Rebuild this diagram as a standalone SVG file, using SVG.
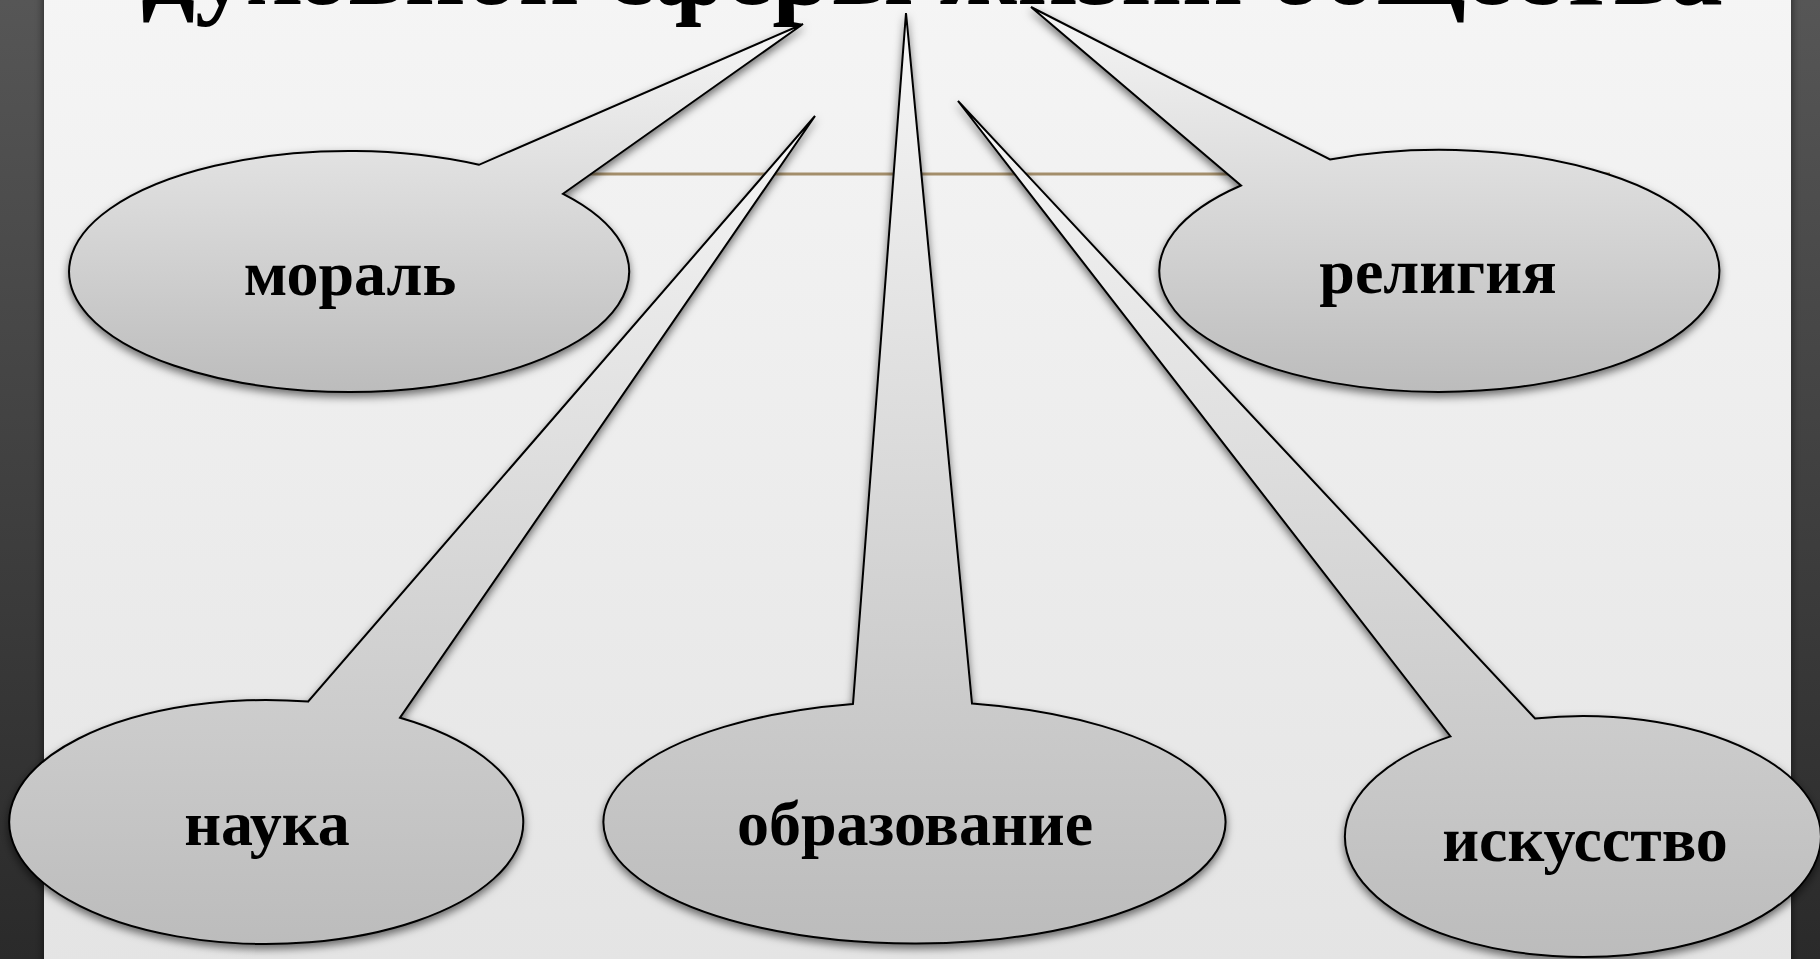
<svg xmlns="http://www.w3.org/2000/svg" width="1820" height="959" viewBox="0 0 1820 959">
  <defs>
    <linearGradient id="bandGrad" x1="0" y1="0" x2="0" y2="1">
      <stop offset="0" stop-color="#565656"/>
      <stop offset="1" stop-color="#2a2a2a"/>
    </linearGradient>
    <linearGradient id="panelGrad" x1="0" y1="0" x2="0" y2="1">
      <stop offset="0" stop-color="#f5f5f5"/>
      <stop offset="1" stop-color="#e4e4e4"/>
    </linearGradient>
    <linearGradient id="shapeGrad" x1="0" y1="0" x2="0" y2="1">
      <stop offset="0" stop-color="#f6f6f6"/>
      <stop offset="1" stop-color="#bcbcbc"/>
    </linearGradient>
    <filter id="shadow" x="-10%" y="-10%" width="120%" height="125%">
      <feDropShadow dx="0" dy="4" stdDeviation="4" flood-color="#000" flood-opacity="0.55"/>
    </filter>
    <filter id="panelShadow" x="-5%" y="-5%" width="110%" height="110%">
      <feDropShadow dx="0" dy="0" stdDeviation="5" flood-color="#000" flood-opacity="0.6"/>
    </filter>
  </defs>
  <style>
    .callout { fill: url(#shapeGrad); stroke: #000; stroke-width: 2; stroke-linejoin: miter; filter: url(#shadow); }
    .label { font-family: "Liberation Serif", "Times New Roman", serif; font-weight: bold; font-size: 64px; fill: #000; text-anchor: middle; }
    .title { font-family: "Liberation Serif", "Times New Roman", serif; font-weight: bold; font-size: 106px; fill: #000; text-anchor: middle; }
  </style>

  <!-- background -->
  <g id="background">
    <rect x="0" y="0" width="1820" height="959" fill="url(#bandGrad)"/>
    <rect x="44" y="-10" width="1747" height="980" fill="url(#panelGrad)" filter="url(#panelShadow)"/>
  </g>

  <!-- title -->
  <g id="title">
    <text class="title" x="932" y="4">духовной сферы жизни общества</text>
  </g>

  <!-- decorative title underline -->
  <g id="decor">
    <line x1="200" y1="174" x2="1610" y2="174" stroke="#a38e6b" stroke-width="3"/>
  </g>

  <!-- connectors: the callout tails are merged into each node outline -->
  <g id="connectors"/>

  <g id="node-moral">
    <path class="callout" d="M803,24 L479,164.8 A280,120.5 0 1 0 563,193.8 Z"/>
    <text class="label" x="350" y="295">мораль</text>
  </g>

  <g id="node-religion">
    <path class="callout" d="M1031,7 L1330,159.5 A280,121 0 1 1 1241,185.5 Z"/>
    <text class="label" x="1438" y="293">религия</text>
  </g>

  <g id="node-science">
    <path class="callout" d="M815,116 L400,717.8 A257,122 0 1 1 308,701.6 Z"/>
    <text class="label" x="267" y="845">наука</text>
  </g>

  <g id="node-education">
    <path class="callout" d="M906,13 L972,703.6 A311,121 0 1 1 853,703.9 Z"/>
    <text class="label" x="915" y="845">образование</text>
  </g>

  <g id="node-art">
    <path class="callout" d="M958,101 L1535,718.5 A238,120.5 0 1 1 1450.5,736.4 Z"/>
    <text class="label" x="1585" y="861">искусство</text>
  </g>
</svg>
